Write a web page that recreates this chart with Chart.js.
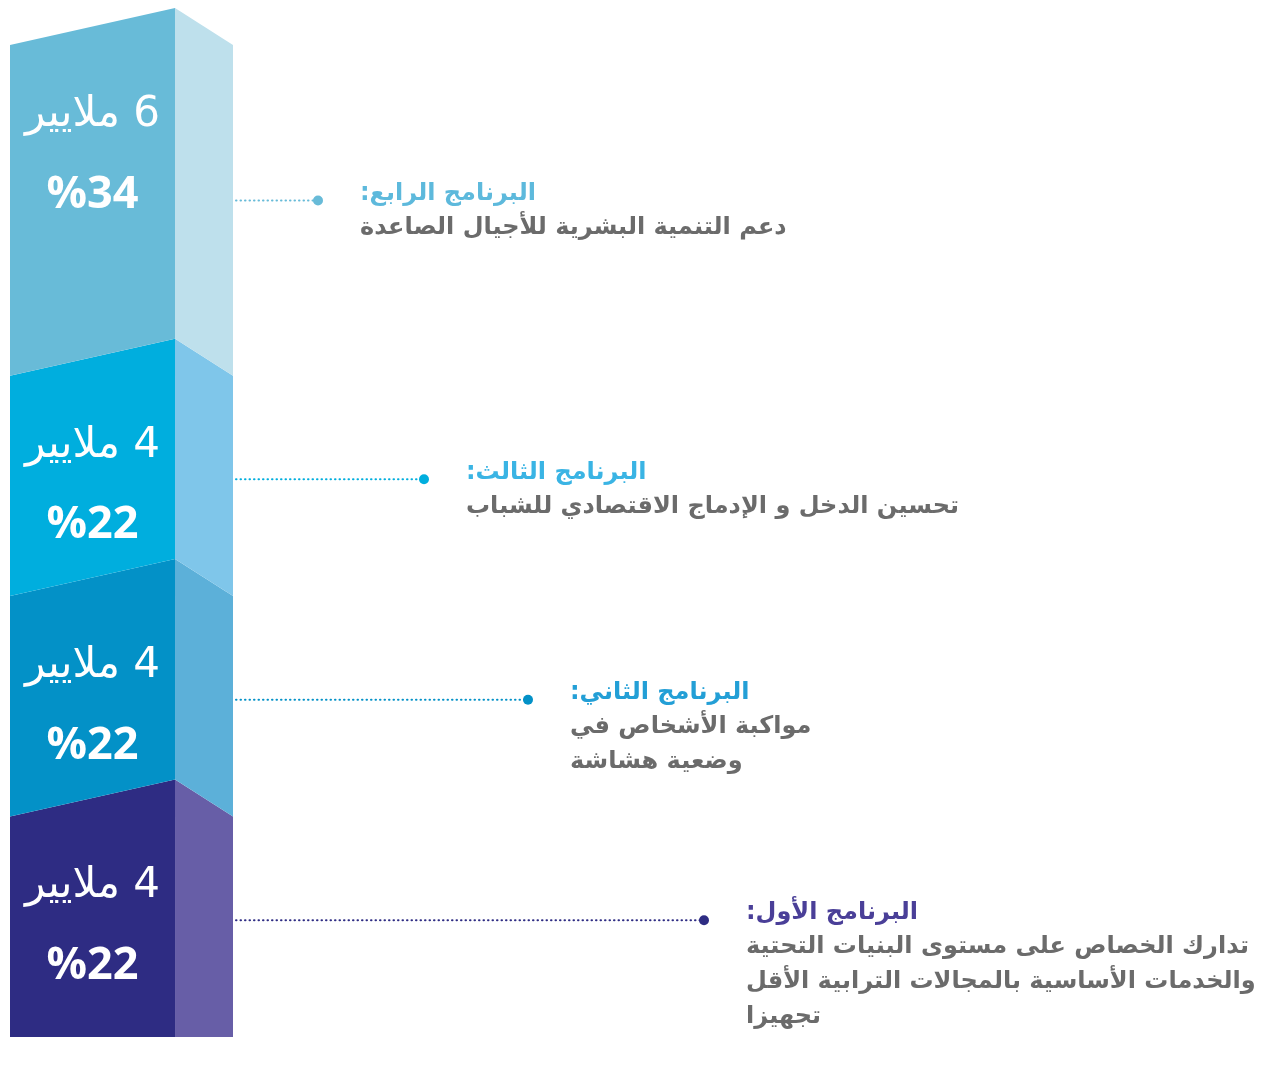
<!DOCTYPE html>
<html lang="ar">
<head>
<meta charset="utf-8">
<script src="https://cdn.jsdelivr.net/npm/chart.js@4/dist/chart.umd.min.js"></script>
<style>
  html, body { margin: 0; padding: 0; background: #ffffff; }
  canvas { display: block; }
</style>
</head>
<body>
<canvas id="chart" width="1261" height="1066"></canvas>
<script>
// bottom to top
const programs = ['البرنامج الأول', 'البرنامج الثاني', 'البرنامج الثالث', 'البرنامج الرابع'];
const amounts = [4, 4, 4, 6];            // billions
const shares = [22, 22, 22, 34];         // percent
const amountLabels = ['4 ملايير', '4 ملايير', '4 ملايير', '6 ملايير'];
const titles = ['البرنامج الأول:', 'البرنامج الثاني:', 'البرنامج الثالث:', 'البرنامج الرابع:'];
const descriptions = [
  ['تدارك الخصاص على مستوى البنيات التحتية', 'والخدمات الأساسية بالمجالات الترابية الأقل', 'تجهيزا'],
  ['مواكبة الأشخاص في', 'وضعية هشاشة'],
  ['تحسين الدخل و الإدماج الاقتصادي للشباب'],
  ['دعم التنمية البشرية للأجيال الصاعدة']
];

const frontColors = ['#2e2c83', '#0391c7', '#00aede', '#68bbd8'];
const sideColors = ['#675ea7', '#5cb0d9', '#7fc6ea', '#bee0ec'];
const titleColors = ['#4a3f98', '#239fd6', '#3ab4e4', '#5db9dc'];
const leaderEnds = [704, 528, 424, 318];

const SLANT = 37;
const arabicFont = '"DejaVu Sans", "Noto Sans", sans-serif';

const prismPlugin = {
  id: 'prism',
  afterDatasetsDraw(chart) {
    const ctx = chart.ctx;
    ctx.save();
    chart.data.datasets.forEach((ds, i) => {
      const bar = chart.getDatasetMeta(i).data[0];
      const { x, y, base, width } = bar.getProps(['x', 'y', 'base', 'width'], true);
      const left = x - width / 2;
      const right = x + width / 2;
      const mid = left + width * 0.74;
      const bottomPeak = i === 0 ? base : base - SLANT;

      // front face
      ctx.fillStyle = frontColors[i];
      ctx.beginPath();
      ctx.moveTo(left, base);
      ctx.lineTo(left, y);
      ctx.lineTo(mid, y - SLANT);
      ctx.lineTo(mid, bottomPeak);
      ctx.closePath();
      ctx.fill();

      // side face
      ctx.fillStyle = sideColors[i];
      ctx.beginPath();
      ctx.moveTo(mid, bottomPeak);
      ctx.lineTo(mid, y - SLANT);
      ctx.lineTo(right, y);
      ctx.lineTo(right, base);
      ctx.closePath();
      ctx.fill();

      // amount and share
      const cx = (left + mid) / 2;
      ctx.fillStyle = '#ffffff';
      ctx.textAlign = 'center';
      ctx.textBaseline = 'middle';
      ctx.direction = 'rtl';
      ctx.font = '42px ' + arabicFont;
      ctx.fillText(amountLabels[i], cx, y + 70);
      ctx.direction = 'ltr';
      ctx.font = 'bold 45px "Liberation Sans Narrow", "Open Sans", sans-serif';
      ctx.fillText('%' + shares[i], cx, y + 150);

      // leader line
      const ly = y + (base - y) * 0.47;
      ctx.strokeStyle = frontColors[i];
      ctx.lineWidth = 2;
      ctx.lineCap = 'round';
      ctx.setLineDash([0.5, 4]);
      ctx.beginPath();
      ctx.moveTo(right + 3, ly);
      ctx.lineTo(leaderEnds[i], ly);
      ctx.stroke();
      ctx.setLineDash([]);
      ctx.fillStyle = frontColors[i];
      ctx.beginPath();
      ctx.arc(leaderEnds[i], ly, 5, 0, Math.PI * 2);
      ctx.fill();

      // program title and description
      const tx = leaderEnds[i] + 42;
      ctx.direction = 'rtl';
      ctx.textAlign = 'left';
      ctx.fillStyle = titleColors[i];
      ctx.font = 'bold 24px ' + arabicFont;
      ctx.fillText(titles[i], tx, ly - 7);
      ctx.fillStyle = '#6b6b6b';
      ctx.font = 'bold 24px ' + arabicFont;
      descriptions[i].forEach((line, k) => {
        ctx.fillText(line, tx, ly + 27 + k * 35);
      });
    });
    ctx.restore();
  }
};

new Chart(document.getElementById('chart'), {
  type: 'bar',
  data: {
    labels: ['المبلغ'],
    datasets: programs.map((name, i) => ({
      label: name,
      data: [amounts[i]],
      backgroundColor: 'rgba(0,0,0,0)',
      borderWidth: 0,
      stack: 'total'
    }))
  },
  options: {
    responsive: false,
    animation: false,
    layout: { padding: { left: 10, right: 1028, top: 45, bottom: 29 } },
    datasets: { bar: { categoryPercentage: 1, barPercentage: 1 } },
    scales: {
      x: { display: false, stacked: true },
      y: { display: false, stacked: true, min: 0, max: 18 }
    },
    plugins: {
      legend: { display: false },
      tooltip: { enabled: false }
    }
  },
  plugins: [prismPlugin]
});
</script>
</body>
</html>
